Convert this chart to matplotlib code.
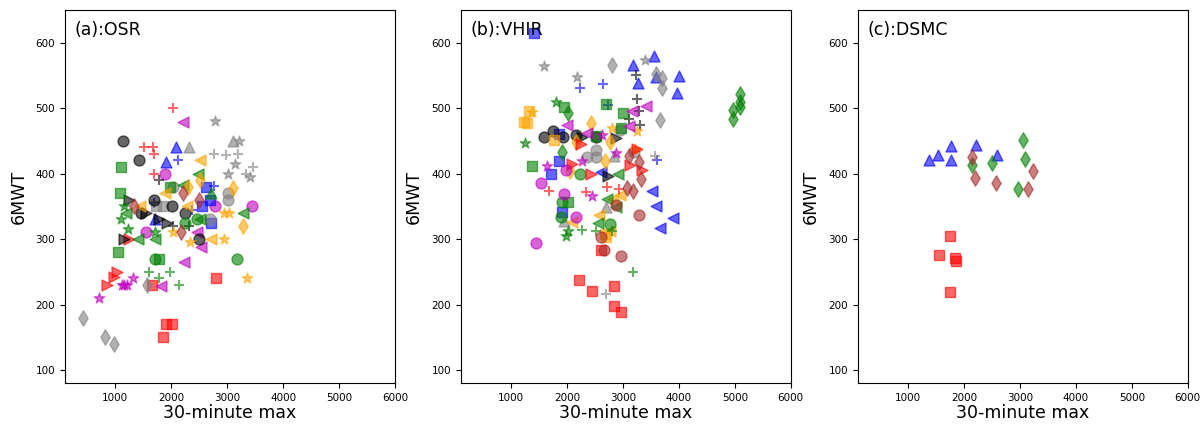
import matplotlib
matplotlib.use("Agg")
import matplotlib.pyplot as plt

# ---- (a) OSR : (30-minute max, 6MWT) per subject ----
osr_red_plus = [(2030, 500), (1520, 440), (1670, 440), (1690, 430), (1700, 400)]
osr_red_right = [(860, 230), (970, 242), (1030, 250), (1240, 300)]
osr_red_sq = [(1650, 230), (2800, 240), (1900, 170), (2020, 170), (1850, 150)]
osr_mag_star = [(700, 210), (1120, 230), (1210, 230), (1310, 240), (1160, 230)]
osr_mag_left = [(2210, 479), (2230, 265), (1810, 229), (2540, 288), (2460, 310)]
osr_mag_circ = [(1880, 400), (1550, 310), (3440, 350), (2790, 350)]
osr_blue_up = [(2080, 440), (1910, 418), (1710, 330)]
osr_blue_plus = [(2130, 420), (2770, 381), (2370, 345), (1700, 355)]
osr_blue_sq = [(2620, 380), (2700, 360), (2550, 350), (2710, 325)]
osr_gray_up = [(2310, 440), (3100, 450)]
osr_gray_star = [(2790, 480), (3220, 450), (3140, 415), (3010, 400), (3410, 395)]
osr_gray_plus = [(2770, 430), (2980, 428), (3190, 430), (3330, 400), (3470, 410)]
osr_gray_circ = [(3010, 370), (3010, 360), (2030, 380), (2690, 330)]
osr_gray_dia = [(430, 180), (820, 150), (970, 140), (1560, 230)]
osr_gray_sq = [(1850, 350), (1720, 350)]
osr_black_circ = [(1140, 450), (1430, 420), (1700, 360), (2020, 350), (1460, 340), (2240, 340), (2500, 300)]
osr_black_right = [(1240, 360), (1160, 300), (1550, 340), (1790, 330), (1920, 325)]
osr_black_plus = [(1790, 390), (2040, 320), (2320, 320)]
osr_green_sq = [(1110, 410), (1080, 370), (1040, 280), (1970, 380), (1790, 270)]
osr_green_circ = [(3170, 270), (1710, 270), (2250, 325), (2460, 330)]
osr_green_star = [(1150, 350), (1100, 330), (1220, 315), (1710, 310)]
osr_green_left = [(2470, 400), (2210, 382), (1200, 340), (1400, 300), (1710, 300), (3290, 340), (2520, 330)]
osr_green_plus = [(1610, 250), (1980, 250), (1790, 240), (2140, 230)]
osr_green_up = [(2710, 370)]
osr_orange_left = [(2520, 420), (1890, 370), (1450, 350), (2280, 350), (2710, 300)]
osr_orange_dia = [(2300, 380), (2510, 390), (3110, 378), (3290, 320)]
osr_orange_star = [(2040, 310), (2330, 295), (2950, 300), (3040, 340), (3350, 240), (2950, 340)]
osr_brown_dia = [(1340, 350), (2210, 370), (2180, 310), (2490, 360)]

# ---- (b) VHIR ----
vhir_blue_sq = [(1406, 615), (1854, 419), (1710, 400), (1913, 341), (1850, 460)]
vhir_blue_up = [(3185, 566), (3555, 580), (3269, 539), (3597, 547), (3997, 549), (3970, 523)]
vhir_blue_left = [(2606, 403), (3513, 373), (3597, 350), (3657, 317), (3896, 332)]
vhir_blue_plus = [(2230, 530), (2643, 537), (3603, 420), (2730, 505)]
vhir_gray_star = [(1585, 565), (2182, 548), (3388, 573)]
vhir_gray_dia = [(2809, 566), (3585, 552), (3704, 546), (3704, 530), (3663, 482)]
vhir_gray_circ = [(2352, 425), (2522, 436), (2510, 425), (3197, 433), (2946, 467)]
vhir_gray_plus = [(2701, 216), (3573, 427)]
vhir_gray_up = [(1943, 327), (2690, 349), (2839, 427)]
vhir_black_plus = [(3227, 550), (3245, 514), (3107, 484), (3281, 495), (3299, 474)]
vhir_black_circ = [(1597, 456), (1752, 465), (1925, 456), (2164, 459), (2510, 456)]
vhir_black_right = [(2263, 456), (2869, 455), (2737, 396)]
vhir_orange_sq = [(1316, 495), (1227, 478), (1287, 477), (1764, 451), (2684, 308), (2690, 303)]
vhir_orange_dia = [(2433, 477), (2152, 448), (2761, 448), (2672, 419), (2045, 404)]
vhir_orange_star = [(1376, 494), (2809, 470), (3257, 465), (3209, 438)]
vhir_orange_left = [(2570, 337), (2093, 326), (2827, 361), (2946, 367), (2761, 313)]
vhir_green_sq = [(1376, 412), (1943, 501), (2701, 506), (2999, 493), (2958, 469), (2522, 457), (2015, 357)]
vhir_green_dia = [(2015, 493), (1913, 433), (4970, 484), (4970, 497), (5096, 522), (5090, 510), (5090, 502)]
vhir_green_star = [(1257, 447), (1806, 509), (1973, 305), (2021, 313)]
vhir_green_circ = [(1884, 334), (1913, 356), (2230, 400), (2761, 323)]
vhir_green_left = [(2904, 399), (2558, 324), (2720, 361), (2869, 349)]
vhir_green_plus = [(2260, 314), (2522, 313), (2809, 313), (3185, 249)]
vhir_red_right = [(2245, 445), (2081, 415), (2421, 400), (3119, 413), (3346, 405), (3245, 437)]
vhir_red_plus = [(1674, 373), (2331, 372), (2719, 379), (2928, 377)]
vhir_red_sq = [(2212, 238), (2451, 220), (2839, 228), (2839, 197), (2958, 189), (2600, 284)]
vhir_brown_circ = [(3287, 337), (2958, 274), (2660, 284), (2612, 303), (2881, 352)]
vhir_brown_dia = [(3107, 427), (3287, 418), (3328, 391), (3078, 378), (3185, 374)]
vhir_mag_circ = [(1543, 385), (1454, 294), (1985, 405), (1955, 369), (2152, 334)]
vhir_mag_left = [(1991, 474), (2361, 462), (3167, 495), (3406, 503), (3107, 472)]
vhir_mag_star = [(1645, 412), (2272, 419), (2451, 366), (2630, 459), (2881, 432)]

# ---- (c) DSMC ----
dsmc_blue_up = [(1369, 420), (1542, 428), (1762, 442), (1774, 421), (2220, 444), (2595, 428)]
dsmc_green_dia = [(2137, 413), (2494, 416), (3054, 451), (3095, 422), (2970, 376)]
dsmc_brown_dia = [(2149, 426), (2190, 393), (2577, 385), (3238, 404), (3143, 377)]
dsmc_red_sq = [(1744, 305), (1554, 275), (1833, 271), (1863, 267), (1744, 219)]

panels = [
    ("(a):OSR", [
        (osr_red_plus, "red", "+"), (osr_red_right, "red", ">"), (osr_red_sq, "red", "s"),
        (osr_mag_star, "m", "*"), (osr_mag_left, "m", "<"), (osr_mag_circ, "m", "o"),
        (osr_blue_up, "blue", "^"), (osr_blue_plus, "blue", "+"), (osr_blue_sq, "blue", "s"),
        (osr_gray_up, "gray", "^"), (osr_gray_star, "gray", "*"), (osr_gray_plus, "gray", "+"),
        (osr_gray_circ, "gray", "o"), (osr_gray_dia, "gray", "d"), (osr_gray_sq, "gray", "s"),
        (osr_black_circ, "black", "o"), (osr_black_right, "black", ">"), (osr_black_plus, "black", "+"),
        (osr_green_sq, "green", "s"), (osr_green_circ, "green", "o"), (osr_green_star, "green", "*"),
        (osr_green_left, "green", "<"), (osr_green_plus, "green", "+"), (osr_green_up, "green", "^"),
        (osr_orange_left, "orange", "<"), (osr_orange_dia, "orange", "d"), (osr_orange_star, "orange", "*"),
        (osr_brown_dia, "brown", "d"),
    ]),
    ("(b):VHIR", [
        (vhir_blue_sq, "blue", "s"), (vhir_blue_up, "blue", "^"), (vhir_blue_left, "blue", "<"),
        (vhir_blue_plus, "blue", "+"), (vhir_gray_star, "gray", "*"), (vhir_gray_dia, "gray", "d"),
        (vhir_gray_circ, "gray", "o"), (vhir_gray_plus, "gray", "+"), (vhir_gray_up, "gray", "^"),
        (vhir_black_plus, "black", "+"), (vhir_black_circ, "black", "o"), (vhir_black_right, "black", ">"),
        (vhir_orange_sq, "orange", "s"), (vhir_orange_dia, "orange", "d"), (vhir_orange_star, "orange", "*"),
        (vhir_orange_left, "orange", "<"), (vhir_green_sq, "green", "s"), (vhir_green_dia, "green", "d"),
        (vhir_green_star, "green", "*"), (vhir_green_circ, "green", "o"), (vhir_green_left, "green", "<"),
        (vhir_green_plus, "green", "+"), (vhir_red_right, "red", ">"), (vhir_red_plus, "red", "+"),
        (vhir_red_sq, "red", "s"), (vhir_brown_circ, "brown", "o"), (vhir_brown_dia, "brown", "d"),
        (vhir_mag_circ, "m", "o"), (vhir_mag_left, "m", "<"), (vhir_mag_star, "m", "*"),
    ]),
    ("(c):DSMC", [
        (dsmc_blue_up, "blue", "^"), (dsmc_green_dia, "green", "d"),
        (dsmc_brown_dia, "brown", "d"), (dsmc_red_sq, "red", "s"),
    ]),
]

fig = plt.figure(figsize=(12.03, 4.29), dpi=100)
lefts = [0.054, 0.383, 0.713]

for left, (title, series) in zip(lefts, panels):
    ax = fig.add_axes([left, 0.107, 0.2743, 0.87])
    for pts, color, marker in series:
        xs = [p[0] for p in pts]
        ys = [p[1] for p in pts]
        ax.scatter(xs, ys, c=color, marker=marker, s=62, alpha=0.6)
    ax.set_xlim(100, 6000)
    ax.set_ylim(80, 650)
    ax.set_xticks([1000, 2000, 3000, 4000, 5000, 6000])
    ax.set_yticks([100, 200, 300, 400, 500, 600])
    ax.tick_params(labelsize=7.5)
    ax.set_xlabel("30-minute max", fontsize=12.5, labelpad=1)
    ax.set_ylabel("6MWT", fontsize=12.5, labelpad=6)
    ax.text(0.03, 0.97, title, transform=ax.transAxes, fontsize=12.5, va="top", ha="left")

fig.savefig("out.png", dpi=100)
